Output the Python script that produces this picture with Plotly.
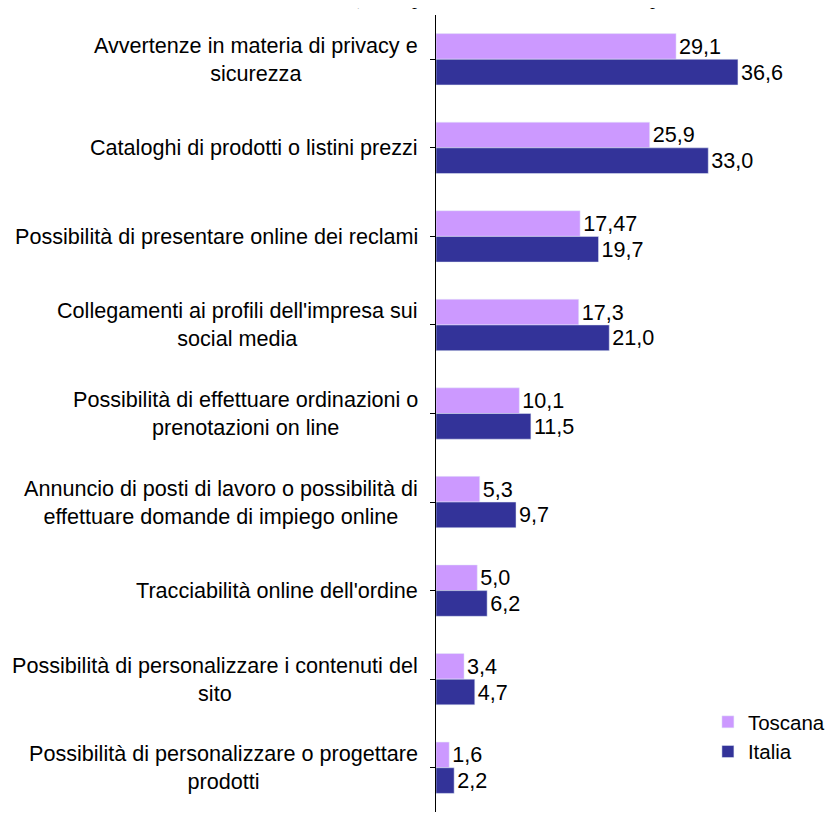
import plotly.graph_objects as go

categories = [
    "Avvertenze in materia di privacy e<br>sicurezza",
    "Cataloghi di prodotti o listini prezzi",
    "Possibilità di presentare online dei reclami",
    "Collegamenti ai profili dell'impresa sui<br>social media",
    "Possibilità di effettuare ordinazioni o<br>prenotazioni on line",
    "Annuncio di posti di lavoro o possibilità di<br>effettuare domande di impiego online",
    "Tracciabilità online dell'ordine",
    "Possibilità di personalizzare i contenuti del<br>sito",
    "Possibilità di personalizzare o progettare<br>prodotti",
]
toscana = [29.1, 25.9, 17.47, 17.3, 10.1, 5.3, 5.0, 3.4, 1.6]
italia = [36.6, 33.0, 19.7, 21.0, 11.5, 9.7, 6.2, 4.7, 2.2]
toscana_labels = ["29,1", "25,9", "17,47", "17,3", "10,1", "5,3", "5,0", "3,4", "1,6"]
italia_labels = ["36,6", "33,0", "19,7", "21,0", "11,5", "9,7", "6,2", "4,7", "2,2"]

FONT = "Liberation Sans, Arial, sans-serif"
FS = 21.6

fig = go.Figure()
fig.add_trace(go.Bar(
    y=list(range(len(categories))), x=toscana, orientation="h", name="Toscana",
    marker=dict(color="#CC99FF"), text=toscana_labels, textposition="outside",
    textfont=dict(size=FS, color="black", family=FONT), cliponaxis=False,
))
fig.add_trace(go.Bar(
    y=list(range(len(categories))), x=italia, orientation="h", name="Italia",
    marker=dict(color="#333399"), text=italia_labels, textposition="outside",
    textfont=dict(size=FS, color="black", family=FONT), cliponaxis=False,
))

for i, c in enumerate(categories):
    fig.add_annotation(
        x=0, xref="paper", y=i, yref="y", text=c, showarrow=False,
        xanchor="right", yanchor="middle", align="center", xshift=-16,
        font=dict(size=FS, color="black", family=FONT),
    )

fig.add_annotation(
    x=-0.2545, xref="paper", y=1.0, yref="paper", yshift=4, yanchor="bottom", xanchor="left",
    text="<i>(valori percentuali sul totale delle imprese con sito web o home page)</i>",
    showarrow=False, font=dict(size=20, color="black", family="Liberation Serif, Times New Roman, serif"),
)

fig.update_layout(
    width=825, height=808,
    margin=dict(l=428, r=67, t=7, b=4, autoexpand=False),
    plot_bgcolor="white", paper_bgcolor="white",
    barmode="group", bargap=0.42, bargroupgap=0,
    showlegend=True,
    legend=dict(x=0.824, y=0.138, xanchor="left", yanchor="top",
                font=dict(size=20.5, color="black", family=FONT),
                tracegroupgap=0, itemwidth=30, bgcolor="rgba(0,0,0,0)"),
    xaxis=dict(range=[0, 40], visible=False, fixedrange=True),
    yaxis=dict(
        tickmode="array", tickvals=list(range(len(categories))), ticktext=[""] * len(categories),
        range=[len(categories) - 0.5, -0.5], tickson="boundaries",
        ticks="outside", ticklen=5, tickcolor="black", tickwidth=1,
        showline=True, linecolor="black", linewidth=1, showgrid=False, zeroline=False,
    ),
    font=dict(family=FONT, color="black"),
)

fig.write_html("out.html")
